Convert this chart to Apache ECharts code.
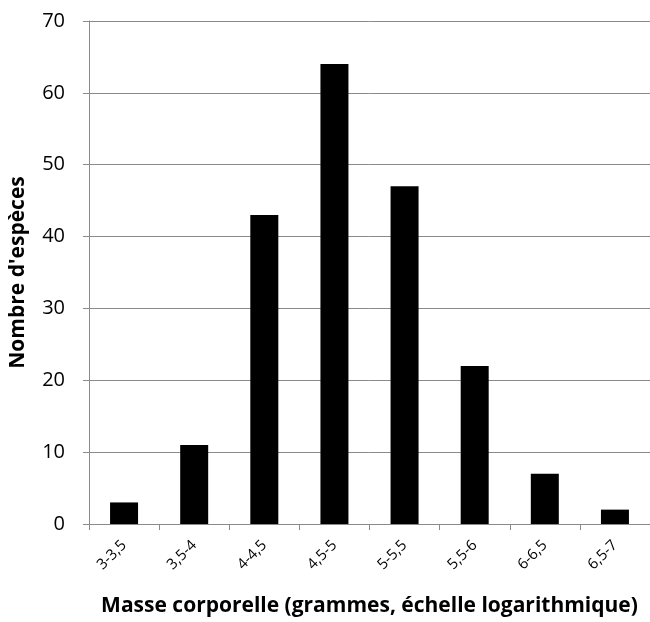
<!DOCTYPE html>
<html>
<head>
<meta charset="utf-8">
<script src="https://cdn.jsdelivr.net/npm/echarts@6/dist/echarts.min.js"></script>
<style>
  html, body { margin: 0; padding: 0; background: #fff; }
  #chart { width: 650px; height: 622px; }
</style>
</head>
<body>
<div id="chart"></div>
<script>
// classes de masse (log10 grammes) et nombre d'espèces
const categories = ['3-3,5', '3,5-4', '4-4,5', '4,5-5', '5-5,5', '5,5-6', '6-6,5', '6,5-7'];
const counts = [3, 11, 43, 64, 47, 22, 7, 2];
const yTicks = { min: 0, max: 70, interval: 10 };

const gray = '#8a8a8a';
const chart = echarts.init(document.getElementById('chart'), null, { renderer: 'canvas' });

chart.setOption({
    animation: false,
    backgroundColor: '#fff',
    grid: { left: 86, right: -5, top: 21, bottom: 91, containLabel: false },
    xAxis: {
        type: 'category',
        data: categories,
        boundaryGap: true,
        axisLine: { lineStyle: { color: gray, width: 1 } },
        axisTick: { show: true, length: 6, lineStyle: { color: gray } },
        axisLabel: {
            rotate: 45, margin: 19,
            fontFamily: 'Open Sans', fontSize: 15, color: '#000'
        },
        name: 'Masse corporelle (grammes, échelle logarithmique)',
        nameLocation: 'middle',
        nameGap: 72,
        nameTextStyle: { fontFamily: 'Open Sans', fontWeight: 'bold', fontSize: 21, color: '#000' }
    },
    yAxis: {
        type: 'value',
        min: yTicks.min, max: yTicks.max, interval: yTicks.interval,
        axisLine: { show: true, lineStyle: { color: gray, width: 1 } },
        axisTick: { show: true, inside: false, length: 6, lineStyle: { color: gray } },
        splitLine: { show: true, lineStyle: { color: gray, width: 1 } },
        axisLabel: { margin: 24, fontFamily: 'Open Sans', fontSize: 20, color: '#000' },
        name: "Nombre d'espèces",
        nameLocation: 'middle',
        nameGap: 60,
        nameTextStyle: { fontFamily: 'Open Sans', fontWeight: 'bold', fontSize: 21, color: '#000' }
    },
    series: [{
        type: 'bar',
        data: counts,
        barWidth: 28,
        itemStyle: { color: '#000' }
    }]
});
</script>
</body>
</html>
